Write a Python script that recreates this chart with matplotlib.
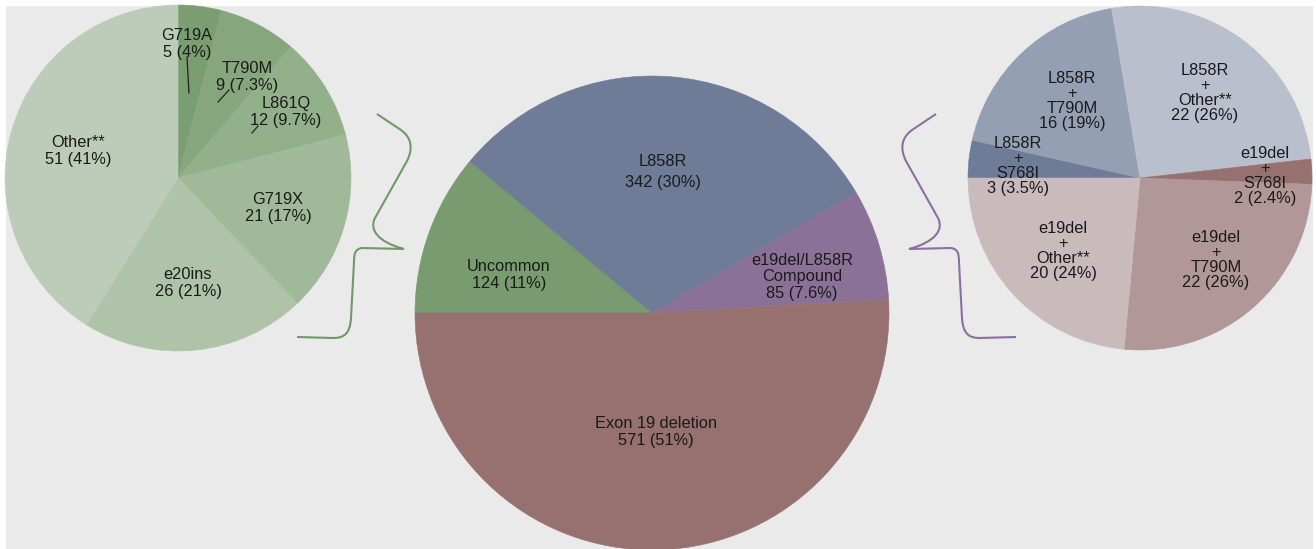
import matplotlib.pyplot as plt
from matplotlib.path import Path
from matplotlib.patches import PathPatch, Rectangle

plt.rcParams['font.family'] = ['Liberation Sans', 'DejaVu Sans']

W, H = 1316, 549

# data
main_labels = ['Uncommon', 'L858R', 'e19del/L858R\nCompound', 'Exon 19 deletion']
main_counts = [124, 342, 85, 571]
main_pct = ['11%', '30%', '7.6%', '51%']
main_colors = ['#789b6f', '#6f7c97', '#8b7197', '#977170']

unc_labels = ['G719A', 'T790M', 'L861Q', 'G719X', 'e20ins', 'Other**']
unc_counts = [5, 9, 12, 21, 26, 51]
unc_pct = ['4%', '7.3%', '9.7%', '17%', '21%', '41%']
unc_colors = ['#7a9e72', '#86a77e', '#92b18b', '#a0ba99', '#afc3a8', '#bdccb8']

comp_labels = ['L858R\n+\nS768I', 'L858R\n+\nT790M', 'L858R\n+\nOther**',
               'e19del\n+\nS768I', 'e19del\n+\nT790M', 'e19del\n+\nOther**']
comp_counts = [3, 16, 22, 2, 22, 20]
comp_pct = ['3.5%', '19%', '26%', '2.4%', '26%', '24%']
comp_colors = ['#6f7c97', '#959fb4', '#b9bfcc', '#977170', '#b19797', '#c9bbbb']

# label positions (pixels)
unc_pos = [(187, 44), (247, 77), (286, 112), (278, 208), (188, 283), (78, 151)]
comp_pos = [(1018, 166), (1072, 101), (1205, 93), (1265, 176), (1216, 260), (1063, 251)]
main_pos = [(509, 275), (663, 172), (802, 277), (656, 432)]

fig = plt.figure(figsize=(W / 100, H / 100), dpi=100)
fig.patches.append(Rectangle((6 / W, 0), 1307 / W, 543 / H, transform=fig.transFigure,
                             facecolor='#eaeaea', edgecolor='none', zorder=-10))


def pie_axes(cx, cy, r, counts, colors, start):
    ax = fig.add_axes([(cx - r) / W, (H - cy - r) / H, 2 * r / W, 2 * r / H])
    wedges, _ = ax.pie(counts, colors=colors, startangle=start, counterclock=False, radius=1)
    for w in wedges:
        w.set_edgecolor(w.get_facecolor())
        w.set_linewidth(0.4)
    ax.set_xlim(-1, 1)
    ax.set_ylim(-1, 1)
    ax.axis('off')
    return ax


pie_axes(178, 178, 173, unc_counts, unc_colors, 90)
pie_axes(652, 313, 237, main_counts, main_colors, 180)
pie_axes(1140, 178, 172, comp_counts, comp_colors, 180)

# overlay in pixel coords
ov = fig.add_axes([0, 0, 1, 1])
ov.set_xlim(0, W)
ov.set_ylim(H, 0)
ov.axis('off')
ov.patch.set_alpha(0)

fs = 11.8
for lab, n, p, (x, y) in zip(unc_labels, unc_counts, unc_pct, unc_pos):
    ov.text(x, y, f'{lab}\n{n} ({p})', ha='center', va='center', fontsize=fs,
            color='#1a1a1a', linespacing=1.1)
for lab, n, p, (x, y) in zip(comp_labels, comp_counts, comp_pct, comp_pos):
    ov.text(x, y, f'{lab}\n{n} ({p})', ha='center', va='center', fontsize=fs,
            color='#1a1a1a', linespacing=1.02)
for i, (lab, n, p, (x, y)) in enumerate(zip(main_labels, main_counts, main_pct, main_pos)):
    ls = 1.55 if i == 1 else 1.1
    ov.text(x, y, f'{lab}\n{n} ({p})', ha='center', va='center', fontsize=fs,
            color='#1a1a1a', linespacing=ls)

# leader lines
for (x0, y0, x1, y1) in [(187, 57, 189, 93), (229, 90, 218, 102), (258, 126, 252, 133)]:
    ov.plot([x0, x1], [y0, y1], color='#222222', lw=0.9)

# braces
verts = [(377, 114),
         (401, 130),
         (412, 138), (413, 149), (407, 161),
         (375, 218),
         (369, 230), (378, 242), (404, 249),
         (362, 248),
         (355, 249), (354, 254), (354, 262),
         (351, 318),
         (350, 334), (344, 338), (333, 338),
         (297, 337)]
codes = [Path.MOVETO,
         Path.LINETO,
         Path.CURVE4, Path.CURVE4, Path.CURVE4,
         Path.LINETO,
         Path.CURVE4, Path.CURVE4, Path.CURVE4,
         Path.LINETO,
         Path.CURVE4, Path.CURVE4, Path.CURVE4,
         Path.LINETO,
         Path.CURVE4, Path.CURVE4, Path.CURVE4,
         Path.LINETO]
ov.add_patch(PathPatch(Path(verts, codes), facecolor='none', edgecolor='#6f9a68', lw=1.5))
mirror = [(1313 - x, y) for x, y in verts]
ov.add_patch(PathPatch(Path(mirror, codes), facecolor='none', edgecolor='#8a70a0', lw=1.5))

fig.savefig('out.png', dpi=100)
